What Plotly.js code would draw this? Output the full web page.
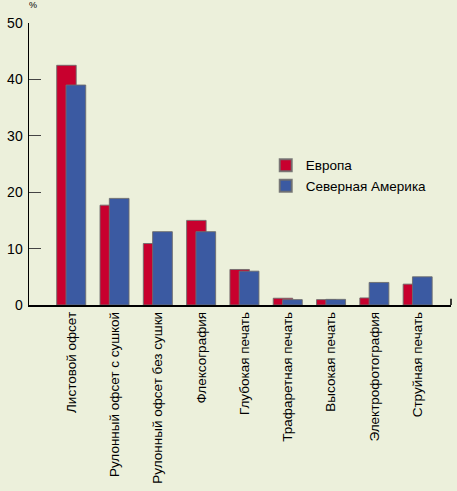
<!DOCTYPE html>
<html>
<head>
<meta charset="utf-8">
<script src="https://cdn.plot.ly/plotly-3.0.1.min.js"></script>
<style>
  html, body { margin: 0; padding: 0; background: #ecf0db; }
  #plot { width: 457px; height: 491px; }
</style>
</head>
<body>
<div id="plot"></div>
<script>
const CATEGORIES = [
  'Листовой офсет',
  'Рулонный офсет с сушкой',
  'Рулонный офсет без сушки',
  'Флексография',
  'Глубокая печать',
  'Трафаретная печать',
  'Высокая печать',
  'Электрофотография',
  'Струйная печать'
];
const EUROPE = [42.5, 17.7, 10.9, 15.0, 6.3, 1.2, 0.95, 1.25, 3.7];
const NORTH_AMERICA = [39.0, 18.9, 13.0, 13.0, 6.0, 0.95, 1.0, 4.0, 5.0];
const Y_TICKS = [0, 10, 20, 30, 40, 50];

const RED = '#c8002e';
const BLUE = '#3b5aa2';
const EDGE = 'rgba(110,110,110,0.9)';

const traces = [
  {
    name: 'Европа', type: 'bar', x: CATEGORIES, y: EUROPE,
    offset: -0.335, width: 0.45,
    marker: {color: RED, line: {color: EDGE, width: 1}},
    hoverinfo: 'none'
  },
  {
    name: 'Северная Америка', type: 'bar', x: CATEGORIES, y: NORTH_AMERICA,
    offset: -0.12, width: 0.455,
    marker: {color: BLUE, line: {color: EDGE, width: 1}},
    hoverinfo: 'none'
  }
];

const layout = {
  width: 457, height: 491,
  margin: {l: 29, r: 6, t: 23, b: 186, pad: 0},
  paper_bgcolor: '#ecf0db',
  plot_bgcolor: '#ecf0db',
  font: {family: 'Liberation Sans, Arial, sans-serif', color: '#000', size: 12},
  barmode: 'overlay',
  showlegend: true,
  legend: {
    x: 0.561, y: 0.55, xanchor: 'left', yanchor: 'top',
    bgcolor: 'rgba(0,0,0,0)', font: {size: 13.5},
    itemsizing: 'constant', tracegroupgap: 0
  },
  xaxis: {
    type: 'category', range: [-0.975, 8.77],
    showgrid: false, zeroline: false,
    showline: true, linecolor: '#000', linewidth: 1.5,
    ticks: '', tickangle: -90, tickfont: {size: 13.5},
    automargin: false
  },
  yaxis: {
    range: [0, 50], tickvals: Y_TICKS,
    showgrid: false, zeroline: false,
    showline: true, linecolor: '#000', linewidth: 1.5,
    ticks: 'inside', ticklen: 12, tickcolor: '#444', tickwidth: 1.2,
    tickfont: {size: 14}, ticklabelstandoff: 2,
    automargin: false
  },
  shapes: [
    {type: 'line', xref: 'paper', yref: 'paper', x0: 1, x1: 1, y0: 0, y1: 0.022,
     line: {color: '#000', width: 1.5}}
  ],
  annotations: [
    {text: '%', xref: 'paper', yref: 'paper', x: 0.01, y: 1.04,
     xanchor: 'center', yanchor: 'bottom', showarrow: false, font: {size: 9}}
  ]
};

Plotly.newPlot('plot', traces, layout, {staticPlot: true});
</script>
</body>
</html>
